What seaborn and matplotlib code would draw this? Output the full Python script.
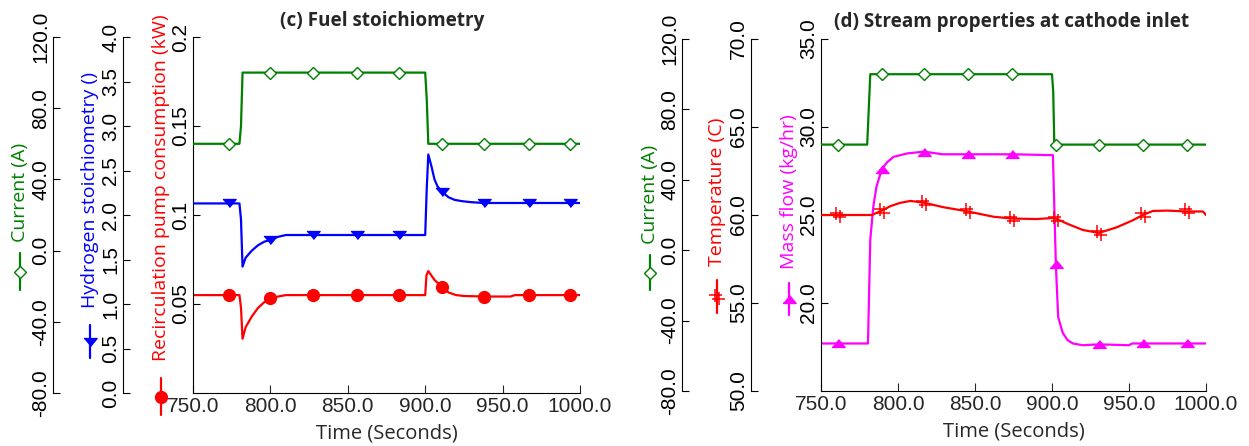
import matplotlib
matplotlib.use('Agg')
import matplotlib.pyplot as plt
from matplotlib.lines import Line2D
from matplotlib.path import Path
import seaborn as sns

# ---- data ----
# (c) fuel stoichiometry
c_marker_t = [773, 800, 827.5, 856, 883, 911, 938, 967, 993.5]
c_time = [750, 773, 780, 781, 782, 800, 827.5, 856, 883, 900, 901, 902,
          911, 938, 967, 993.5, 1000]
c_current = [60, 60, 60, 70, 100, 100, 100, 100, 100, 100, 85, 60,
             60, 60, 60, 60, 60]
h2_time = [750, 773, 780, 781, 782, 784, 788, 792, 796, 800, 805, 810,
           827.5, 856, 883, 900, 901, 902, 904, 906, 908, 911, 915, 919,
           924, 929, 938, 967, 993.5, 1000]
h2_stoich = [2.13, 2.13, 2.13, 1.95, 1.42, 1.52, 1.60, 1.66, 1.70, 1.72,
             1.755, 1.775, 1.775, 1.775, 1.775, 1.775, 2.3, 2.68, 2.55,
             2.40, 2.32, 2.26, 2.20, 2.17, 2.155, 2.145, 2.135, 2.135,
             2.135, 2.135]
rc_time = [750, 773, 780, 781, 782, 784, 788, 792, 796, 800, 805, 810,
           827.5, 856, 883, 900, 900.8, 902, 906, 911, 915, 920, 925, 938,
           955, 958, 967, 993.5, 1000]
rc_power = [0.055, 0.055, 0.055, 0.048, 0.0305, 0.037, 0.043, 0.0478,
            0.051, 0.0532, 0.0542, 0.055, 0.055, 0.055, 0.055, 0.055,
            0.066, 0.0685, 0.0635, 0.0595, 0.0565, 0.055, 0.0545, 0.0542,
            0.0542, 0.055, 0.055, 0.055, 0.055]

# (d) stream properties at cathode inlet
d_marker_t = [761, 789.5, 817, 845.5, 874, 902.5, 930.5, 959, 987.5]
d_time = [750, 761, 780, 781, 782, 789.5, 817, 845.5, 874, 900, 900.8,
          901.5, 902.5, 930.5, 959, 987.5, 1000]
d_current = [60, 60, 60, 80, 100, 100, 100, 100, 100, 100, 90,
             60, 60, 60, 60, 60, 60]
temp_time = [750, 761, 783, 789.5, 795, 801, 808, 817, 829, 845.5, 862,
             874, 890, 900.6, 902.5, 910, 920, 930.5, 942, 952.5, 959,
             965.5, 975, 987.5, 998, 1000]
temp_c = [60.0, 60.0, 60.0, 60.25, 60.5, 60.68, 60.8, 60.7, 60.45, 60.2,
          59.9, 59.8, 59.77, 59.83, 59.8, 59.5, 59.15, 58.98, 59.3, 59.7,
          60.0, 60.23, 60.25, 60.2, 60.2, 60.0]
mf_time = [750, 761, 780.5, 782, 784, 786, 789.5, 793, 797, 806, 817, 829,
           845.5, 874, 900.6, 902.5, 904, 907, 910, 913.6, 920, 930.5, 950,
           952, 959, 987.5, 1000]
mass_flow = [17.7, 17.7, 17.7, 23.6, 25.5, 26.6, 27.6, 28.0, 28.3, 28.5,
             28.6, 28.45, 28.45, 28.45, 28.4, 22.2, 19.2, 18.3, 17.9, 17.7,
             17.6, 17.65, 17.6, 17.7, 17.7, 17.7, 17.7]

x_ticks = [750, 800, 850, 900, 950, 1000]
cur_ticks = [-80, -40, 0, 40, 80, 120]
h2_ticks = [0, 0.5, 1, 1.5, 2, 2.5, 3, 3.5, 4]
rc_ticks = [0.05, 0.1, 0.15, 0.2]
rc_labels = ['0.05', '0.1', '0.15', '0.2']
temp_ticks = [50, 55, 60, 65, 70]
mf_ticks = [20, 25, 30, 35]

GREEN, BLUE, RED, MAGENTA = '#008000', '#0000ff', '#ff0000', '#ff00ff'
TRI_DOWN = [(-1, 0.6), (1, 0.6), (0, -0.6)]
TRI_UP = [(-1, -0.6), (1, -0.6), (0, 0.6)]
M, L = Path.MOVETO, Path.LINETO
DBL_PLUS = Path([(-1, 0.22), (0.6, 0.22), (-0.22, 1), (-0.22, -0.6),
                 (-0.6, -0.22), (1, -0.22), (0.22, 0.6), (0.22, -1)],
                [M, L, M, L, M, L, M, L])

sns.set_style('ticks')
plt.rcParams['font.family'] = ['Liberation Sans', 'DejaVu Sans']
LABEL_FONT = ['Open Sans', 'DejaVu Sans']

W, H = 1249, 446
fig = plt.figure(figsize=(W / 100, H / 100), dpi=100)


def px_box(x0, y0, x1, y1):
    return [x0 / W, 1 - y1 / H, (x1 - x0) / W, (y1 - y0) / H]


def style_y(ax, ticks, labels, lim):
    ax.set_ylim(*lim)
    ax.set_yticks(ticks)
    ax.set_yticklabels(labels)
    ax.tick_params(axis='y', direction='in', length=5, width=0.8,
                   labelsize=15, labelrotation=90, pad=2, colors='black')
    for lab in ax.get_yticklabels():
        lab.set_verticalalignment('center')
    ax.set_ylabel('')


def offset_axis(ax, pos):
    tw = ax.twinx()
    tw.yaxis.tick_left()
    tw.yaxis.set_label_position('left')
    for s in ['top', 'right', 'bottom']:
        tw.spines[s].set_visible(False)
    tw.spines['left'].set_visible(True)
    tw.spines['left'].set_position(('axes', pos))
    tw.spines['left'].set_linewidth(0.8)
    tw.spines['left'].set_color('black')
    return tw


def draw(ax, t, v, marker_t, color, **kw):
    idx = [i for i, x in enumerate(t) if x in marker_t]
    sns.lineplot(x=t, y=v, ax=ax, color=color, lw=1.6, markevery=idx,
                 estimator=None, errorbar=None, **kw)


def label_key(xc, yc, ky0, ky1, text, color, **mk):
    fig.text(xc / W, 1 - yc / H, text, rotation=90, ha='center', va='center',
             color=color, fontsize=14, family=LABEL_FONT)
    fig.add_artist(Line2D([xc / W, xc / W], [1 - ky0 / H, 1 - ky1 / H],
                          transform=fig.transFigure, color=color, lw=1.6))
    fig.add_artist(Line2D([xc / W], [1 - (ky0 + ky1) / 2 / H],
                          transform=fig.transFigure, color=color, **mk))


def base_axis(box):
    ax = fig.add_axes(box)
    ax.set_xlim(750, 1000)
    ax.set_xticks(x_ticks)
    ax.set_xticklabels([f'{t:.1f}' for t in x_ticks])
    ax.tick_params(axis='x', direction='in', length=6, width=0.8,
                   labelsize=15, pad=3)
    ax.spines['top'].set_visible(False)
    ax.spines['right'].set_visible(False)
    for s in ['left', 'bottom']:
        ax.spines[s].set_linewidth(0.8)
        ax.spines[s].set_color('black')
    ax.set_xlabel('Time (Seconds)', fontsize=14.5, family=LABEL_FONT,
                  labelpad=5)
    return ax


diamond = dict(marker='D', ms=6.5, mfc='white', mec=GREEN, mew=1)
circle = dict(marker='o', ms=8.5, mfc=RED, mec=RED, mew=1)
tri_dn = dict(marker=TRI_DOWN, ms=9.5, mfc=BLUE, mec=BLUE, mew=1)
tri_up = dict(marker=TRI_UP, ms=9.5, mfc=MAGENTA, mec=MAGENTA, mew=1)
dbl = dict(marker=DBL_PLUS, ms=11, mfc='none', mec=RED, mew=1.1)

# ---- (c) ----
ax_c = base_axis(px_box(193, 37, 580, 393))
ax_c_cur = offset_axis(ax_c, -140 / 387)
ax_c_h2 = offset_axis(ax_c, -70 / 387)
draw(ax_c, rc_time, rc_power, c_marker_t, RED, **circle)
draw(ax_c_h2, h2_time, h2_stoich, c_marker_t, BLUE, **tri_dn)
draw(ax_c_cur, c_time, c_current, c_marker_t, GREEN, **diamond)
ax_c.set_xlim(750, 1000)
style_y(ax_c, rc_ticks, rc_labels, (0, 0.2))
style_y(ax_c_h2, h2_ticks, [f'{v:.1f}' for v in h2_ticks], (0, 4))
style_y(ax_c_cur, cur_ticks, [f'{v:.1f}' for v in cur_ticks], (-80, 120))
fig.text(382 / W, 1 - 21 / H, '(c) Fuel stoichiometry', ha='center',
         va='center', fontsize=13.6, fontweight='bold', family=LABEL_FONT)
label_key(20, 192, 253, 290, 'Current (A)', GREEN, **diamond)
label_key(90, 190, 325, 358, 'Hydrogen stoichiometry ()', BLUE, **tri_dn)
label_key(161, 188, 378, 415, 'Recirculation pump consumption (kW)', RED,
          **circle)

# ---- (d) ----
ax_d = base_axis(px_box(821, 39, 1206, 391))
ax_d_cur = offset_axis(ax_d, -139 / 385)
ax_d_tmp = offset_axis(ax_d, -70 / 385)
draw(ax_d, mf_time, mass_flow, d_marker_t, MAGENTA, **tri_up)
draw(ax_d_tmp, temp_time, temp_c, d_marker_t, RED, **dbl)
draw(ax_d_cur, d_time, d_current, d_marker_t, GREEN, **diamond)
ax_d.set_xlim(750, 1000)
style_y(ax_d, mf_ticks, [f'{v:.1f}' for v in mf_ticks], (15, 35))
style_y(ax_d_tmp, temp_ticks, [f'{v:.1f}' for v in temp_ticks], (50, 70))
style_y(ax_d_cur, cur_ticks, [f'{v:.1f}' for v in cur_ticks], (-80, 120))
fig.text(1012 / W, 1 - 22 / H, '(d) Stream properties at cathode inlet',
         ha='center', va='center', fontsize=13.6, fontweight='bold',
         family=LABEL_FONT)
label_key(650, 194, 255, 290, 'Current (A)', GREEN, **diamond)
label_key(717, 192, 280, 313, 'Temperature (C)', RED, **dbl)
label_key(789, 192, 283, 315, 'Mass flow (kg/hr)', MAGENTA, **tri_up)

fig.savefig('out.png', dpi=100)
